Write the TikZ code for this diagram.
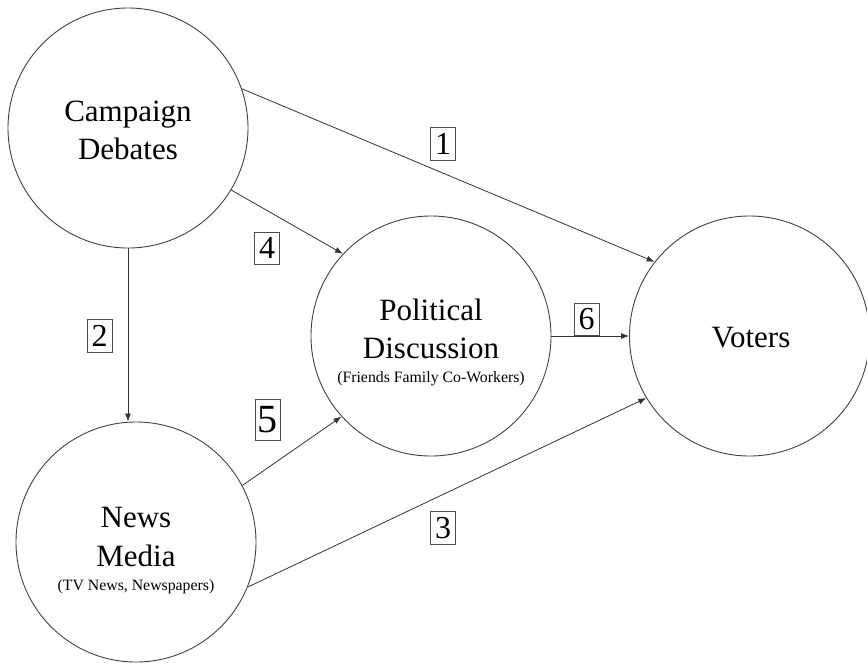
\documentclass[tikz,border=0pt]{standalone}
\usepackage{fontspec}
\setmainfont{Liberation Serif}
\usetikzlibrary{arrows.meta}
\newcommand{\subtxt}{\fontsize{15.8}{18}\selectfont}
\begin{document}
\begin{tikzpicture}[x=1pt,y=-1pt,
  circ/.style={circle,draw=black!75,line width=0.9pt,minimum size=240pt,inner sep=0pt},
  maintxt/.style={align=center,inner sep=0pt,font=\fontsize{31}{38}\selectfont},
  numbox/.style={draw=black!70,line width=0.8pt,inner sep=0pt,minimum width=25pt,minimum height=33pt,font=\fontsize{32}{36}\selectfont},
  conn/.style={draw=black!80,line width=0.8pt,-{Latex[length=8pt,width=6pt]}}]
\useasboundingbox (0,0) rectangle (867,665);
% circles
\node[circ] (cd) at (128,128) {};
\node[circ] (nm) at (136,542) {};
\node[circ] (pd) at (431,336) {};
\node[circ] (vt) at (749.5,336) {};
% texts
\node[maintxt] (cdt) at (128,130.5) {Campaign\\Debates};
\node[maintxt] (nmt) at (136,550.6) {News\\[1pt]Media\\[-14.5pt]{\subtxt (TV News, Newspapers)}};
\node[maintxt] (pdt) at (431,342) {Political\\Discussion\\[-14pt]{\subtxt (Friends Family Co-Workers)}};
\node[maintxt] (vtt) at (751,337.5) {Voters};
% connectors
\draw[conn] (cd.19.3) -- (vt.142.9);
\draw[conn] (cd.south) -- (cd.south |- nm.north);
\draw[conn] (nm.-22.5) -- (vt.211.9);
\draw[conn] (cd.-31.6) -- (pd.137.4);
\draw[conn] (nm.28.3) -- (pd.222.6);
\draw[conn] (pd.east) -- (vt.west);
% labels
\node[numbox] (l1) at (443,143.5) {1};
\node[numbox] (l2) at (99.5,336) {2};
\node[numbox] (l3) at (443,528) {3};
\node[numbox,minimum height=32pt] (l4) at (267,248) {4};
\node[numbox,minimum height=41pt,font=\fontsize{40}{44}\selectfont] (l5) at (267.5,420) {5};
\node[numbox,minimum height=32pt] (l6) at (586.5,319) {6};
\end{tikzpicture}
\end{document}
